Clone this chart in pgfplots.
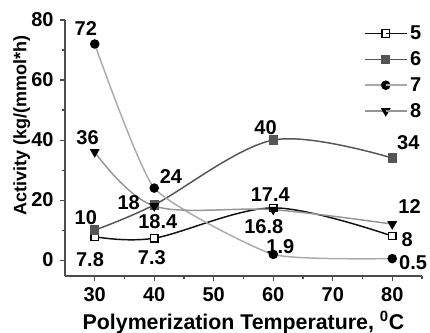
\documentclass[border=0pt]{standalone}
\usepackage{pgfplots}
\pgfplotsset{compat=1.18}
\usepackage{fontspec}
\setmainfont{Liberation Sans}
\definecolor{cA}{HTML}{111111}
\definecolor{cB}{HTML}{555555}
\definecolor{cC}{HTML}{ABABAB}
\definecolor{cD}{HTML}{959595}
\begin{document}
\begin{tikzpicture}
\begin{axis}[name=ax,
  scale only axis, width=267.75pt, height=192pt,
  xmin=25, xmax=85, ymin=-5.3, ymax=80,
  axis lines*=left,
  axis line style={line width=0.8pt, color=black!70},
  xtick={30,40,50,60,70,80}, ytick={0,20,40,60,80},
  minor xtick={35,45,55,65,75,85}, minor ytick={10,30,50,70},
  tick align=outside, major tick length=4pt, minor tick length=2.5pt,
  tick style={line width=0.8pt, color=black!70},
  /pgf/number format/assume math mode=true,
  ticklabel style={font=\fontsize{15}{17}\selectfont\bfseries},
  xticklabel style={yshift=-1pt},
  yticklabel style={xshift=-1pt},
  xlabel={Polymerization Temperature, $^{\mathbf{0}}$C},
  ylabel={Activity (kg/(mmol*h)},
  xlabel style={font=\fontsize{16}{18}\selectfont\bfseries},
  ylabel style={font=\fontsize{13.5}{15}\selectfont\bfseries, at={(ticklabel cs:0.586)}, yshift=-6pt},
  legend style={draw=none, fill=none, at={(1.017,1.0)}, anchor=north east,
    font=\fontsize{15}{17}\selectfont\bfseries, row sep=3.5pt},
  legend cell align=left,
  legend image code/.code={\draw[#1] (0cm,0cm) -- (0.55cm,0cm); \draw[#1,mark repeat=2,mark phase=2] plot coordinates {(0cm,0cm) (0.55cm,0cm) (1.1cm,0cm)}; \draw[#1] (0.55cm,0cm) -- (1.1cm,0cm);},
  clip=false,
  every axis plot/.append style={line width=1.1pt, smooth, tension=0.55},
]
\addplot[color=cA, mark=square*, mark size=2.8pt, mark options={fill=white, draw=black, line width=0.9pt}] coordinates {(30,7.8) (40,7.3) (60,17.4) (80,8)};
\addlegendentry{5}
\addplot[color=cB, mark=square*, mark size=3pt, mark options={fill=cB, draw=cB}] coordinates {(30,10) (40,18.4) (60,40) (80,34)};
\addlegendentry{6}
\addplot[color=cC, mark=*, mark size=3pt, mark options={fill=black, draw=black}, tension=0.3] coordinates {(30,72) (40,24) (60,1.9) (80,0.5)};
\addlegendentry{7}
\addplot[color=cD, mark=triangle*, mark size=3.2pt, mark options={fill=black, draw=black, rotate=180}] coordinates {(30,36) (40,18) (60,16.8) (80,12)};
\addlegendentry{8}
\begin{scope}[every node/.style={font=\fontsize{15}{17}\selectfont\bfseries, inner sep=0pt}]
\node at (axis cs:28.5,77.3) {72};
\node at (axis cs:28.8,40.7) {36};
\node at (axis cs:42.8,27.7) {24};
\node at (axis cs:35.7,19.3) {18};
\node at (axis cs:28.5,14) {10};
\node at (axis cs:40.6,12.7) {18.4};
\node at (axis cs:29.2,0) {7.8};
\node at (axis cs:39.6,0.7) {7.3};
\node at (axis cs:58.7,44.3) {40};
\node at (axis cs:82.7,39) {34};
\node at (axis cs:59.5,21.7) {17.4};
\node at (axis cs:82.9,17.7) {12};
\node at (axis cs:58.4,11.3) {16.8};
\node at (axis cs:61.2,4.6) {1.9};
\node at (axis cs:82.5,6.7) {8};
\node at (axis cs:83.5,-0.7) {0.5};
\end{scope}
\end{axis}
\pgfresetboundingbox
\path ([shift={(-48.75pt,-42.75pt)}]ax.south west) rectangle ([shift={(6pt,15pt)}]ax.north east);
\end{tikzpicture}
\end{document}
